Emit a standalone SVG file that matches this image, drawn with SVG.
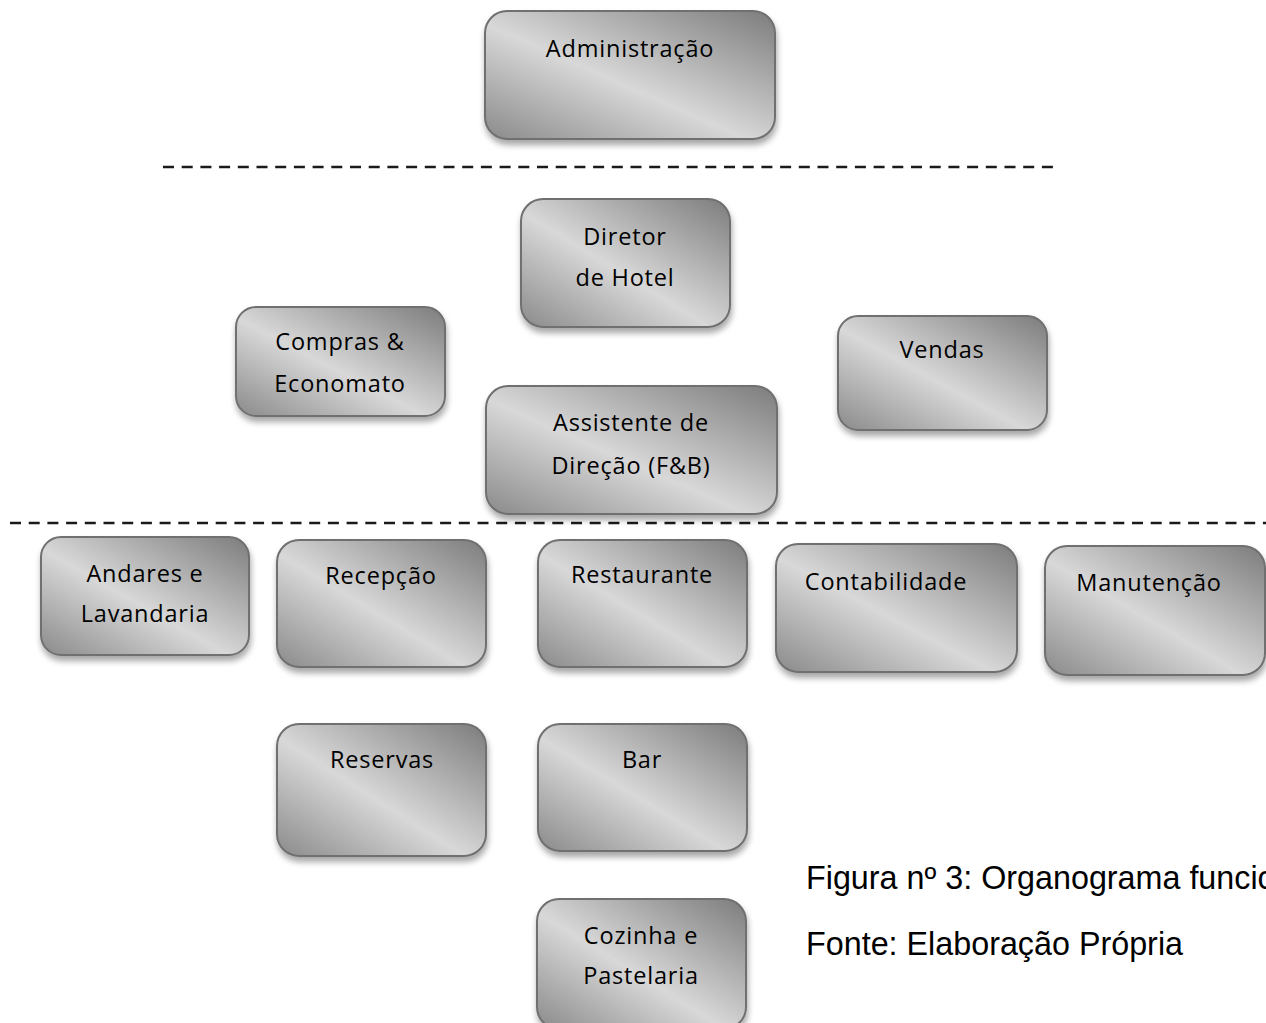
<svg xmlns="http://www.w3.org/2000/svg" width="1266" height="1023" viewBox="0 0 1266 1023">
<defs>
<linearGradient id="g" x1="1" y1="0" x2="0" y2="1">
<stop offset="0" stop-color="#7c7c7c"/>
<stop offset="0.55" stop-color="#d8d8d8"/>
<stop offset="1" stop-color="#8a8a8a"/>
</linearGradient>
<filter id="sh" x="-10%" y="-10%" width="125%" height="130%">
<feGaussianBlur in="SourceAlpha" stdDeviation="3"/>
<feOffset dx="1" dy="5" result="b"/>
<feComponentTransfer><feFuncA type="linear" slope="0.35"/></feComponentTransfer>
<feMerge><feMergeNode/><feMergeNode in="SourceGraphic"/></feMerge>
</filter>
</defs>
<style>
.box{fill:url(#g);stroke:#707070;stroke-width:2;filter:url(#sh)}
.t{font-family:"Open Sans","Noto Sans",sans-serif;font-size:23.5px;letter-spacing:0.8px;fill:#000;text-anchor:middle}
.cap{font-family:"Liberation Sans",Arial,sans-serif;font-size:32.3px;fill:#000}
.dash{stroke:#1a1a1a;stroke-width:2.5;stroke-dasharray:11 7.7;fill:none}
</style>
<rect width="1266" height="1023" fill="#fff"/>
<g id="connectors">
<line class="dash" x1="163" y1="167" x2="1053" y2="167"/>
<line class="dash" x1="10" y1="523" x2="1266" y2="523"/>
</g>
<g id="n-administracao"><rect class="box" x="485" y="11" width="290" height="128" rx="22"/><text class="t" x="630" y="57">Administração</text></g>
<g id="n-diretor"><rect class="box" x="521" y="199" width="209" height="128" rx="22"/><text class="t" x="625" y="245">Diretor</text><text class="t" x="625" y="286">de Hotel</text></g>
<g id="n-compras"><rect class="box" x="236" y="307" width="209" height="109" rx="20"/><text class="t" x="340" y="350">Compras &amp;</text><text class="t" x="340" y="392">Economato</text></g>
<g id="n-vendas"><rect class="box" x="838" y="316" width="209" height="114" rx="20"/><text class="t" x="942" y="358">Vendas</text></g>
<g id="n-assistente"><rect class="box" x="486" y="386" width="291" height="128" rx="22"/><text class="t" x="631" y="431">Assistente de</text><text class="t" x="631" y="474">Direção (F&amp;B)</text></g>
<g id="n-andares"><rect class="box" x="41" y="537" width="208" height="118" rx="20"/><text class="t" x="145" y="582">Andares e</text><text class="t" x="145" y="622">Lavandaria</text></g>
<g id="n-recepcao"><rect class="box" x="277" y="540" width="209" height="127" rx="22"/><text class="t" x="381" y="584">Recepção</text></g>
<g id="n-restaurante"><rect class="box" x="538" y="540" width="209" height="127" rx="22"/><text class="t" x="642" y="583">Restaurante</text></g>
<g id="n-contabilidade"><rect class="box" x="776" y="544" width="241" height="128" rx="22"/><text class="t" x="886" y="590">Contabilidade</text></g>
<g id="n-manutencao"><rect class="box" x="1045" y="546" width="220" height="129" rx="22"/><text class="t" x="1149" y="591">Manutenção</text></g>
<g id="n-reservas"><rect class="box" x="277" y="724" width="209" height="132" rx="22"/><text class="t" x="382" y="768">Reservas</text></g>
<g id="n-bar"><rect class="box" x="538" y="724" width="209" height="127" rx="22"/><text class="t" x="642" y="768">Bar</text></g>
<g id="n-cozinha"><rect class="box" x="537" y="899" width="209" height="130" rx="22"/><text class="t" x="641" y="944">Cozinha e</text><text class="t" x="641" y="984">Pastelaria</text></g>
<text class="cap" x="806" y="889">Figura nº 3: Organograma funcio</text>
<text class="cap" x="806" y="955">Fonte: Elaboração Própria</text>
</svg>
